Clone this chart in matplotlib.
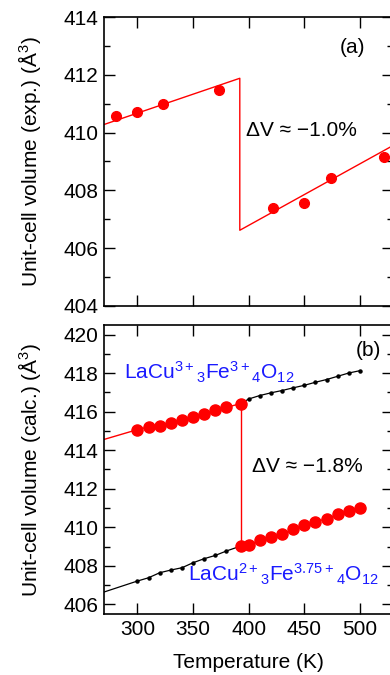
import matplotlib
matplotlib.use("Agg")
import matplotlib.pyplot as plt
from matplotlib.ticker import MultipleLocator

plt.rcParams['font.family'] = ['Liberation Sans', 'DejaVu Sans']
plt.rcParams['font.size'] = 15
plt.rcParams['mathtext.fontset'] = 'custom'
plt.rcParams['mathtext.rm'] = 'Liberation Sans'
plt.rcParams['mathtext.it'] = 'Liberation Sans:italic'
plt.rcParams['mathtext.bf'] = 'Liberation Sans:bold'

# EXPERIMENT (panel a)
T_exp = [281, 300, 323, 373, 422, 450, 474, 522]
V_exp = [410.56, 410.71, 410.98, 411.49, 407.38, 407.55, 408.44, 409.14]
# fitted lines with jump
T_fit = [270, 392, 392, 530]
V_fit = [410.28, 411.88, 406.62, 409.56]

# CALCULATION (panel b)
T_tr = 393
T_hi_red = [300, 310, 320, 330, 340, 350, 360, 370, 380, 393]
V_hi_red = [415.07, 415.21, 415.28, 415.42, 415.59, 415.73, 415.87, 416.08, 416.23, 416.42]
T_hi_blk = [393, 400, 410, 420, 430, 440, 450, 460, 470, 480, 490, 500]
V_hi_blk = [416.42, 416.66, 416.84, 416.98, 417.10, 417.24, 417.37, 417.53, 417.67, 417.84, 418.01, 418.13]
T_lo_blk = [300, 310, 320, 330, 340, 350, 360, 370, 380, 393]
V_lo_blk = [407.21, 407.38, 407.64, 407.78, 407.90, 408.16, 408.37, 408.54, 408.77, 409.03]
T_lo_red = [393, 400, 410, 420, 430, 440, 450, 460, 470, 480, 490, 500]
V_lo_red = [409.03, 409.06, 409.34, 409.51, 409.63, 409.89, 410.11, 410.29, 410.44, 410.67, 410.84, 411.01]
# extrapolated ends at the left edge
T_left = 270
V_hi_left = 414.56
V_lo_left = 406.64

red = '#ff0000'
blue = '#1a1aff'

fig = plt.figure(figsize=(3.9, 6.75), dpi=100)
ax1 = fig.add_axes([0.2667, 0.5467, 1.0087 - 0.2667, 0.9748 - 0.5467])
ax2 = fig.add_axes([0.2667, 0.0904, 1.0087 - 0.2667, 0.5185 - 0.0904])

# PANEL A
ax1.plot(T_fit, V_fit, color=red, lw=1.0)
ax1.plot(T_exp, V_exp, 'o', color=red, ms=7, mec=red)
ax1.set_xlim(270, 530)
ax1.set_ylim(404, 414)
ax1.yaxis.set_major_locator(MultipleLocator(2))
ax1.yaxis.set_minor_locator(MultipleLocator(1))
ax1.set_xticks([300, 350, 400, 450, 500])
ax1.tick_params(labelbottom=False)
ax1.set_ylabel('Unit-cell volume (exp.) (Å$^3$)')
ax1.yaxis.set_label_coords(-0.21, 0.5)
ax1.text(398, 410.08, 'ΔV ≈ −1.0%', ha='left', va='center', fontsize=15)
ax1.text(0.858, 0.893, '(a)', transform=ax1.transAxes, ha='center', va='center', fontsize=15)

# PANEL B
ax2.plot([T_left] + T_lo_blk, [V_lo_left] + V_lo_blk, color='black', lw=0.9,
         marker='o', ms=2.2, markevery=list(range(1, len(T_lo_blk))))
ax2.plot(T_hi_blk, V_hi_blk, color='black', lw=0.9, marker='o', ms=2.2,
         markevery=list(range(1, len(T_hi_blk))))
ax2.plot([T_left] + T_hi_red, [V_hi_left] + V_hi_red, color=red, lw=1.0)
ax2.plot(T_lo_red, V_lo_red, color=red, lw=1.0)
ax2.plot([T_tr, T_tr], [V_lo_red[0], V_hi_red[-1]], color=red, lw=1.0)
ax2.plot(T_hi_red, V_hi_red, 'o', color=red, ms=8, mec=red)
ax2.plot(T_lo_red, V_lo_red, 'o', color=red, ms=8, mec=red)
ax2.set_xlim(270, 530)
ax2.set_ylim(405.5, 420.5)
ax2.yaxis.set_major_locator(MultipleLocator(2))
ax2.yaxis.set_minor_locator(MultipleLocator(1))
ax2.set_xticks([300, 350, 400, 450, 500])
ax2.set_xlabel('Temperature (K)')
ax2.xaxis.set_label_coords(0.5, -0.135)
ax2.set_ylabel('Unit-cell volume (calc.) (Å$^3$)')
ax2.yaxis.set_label_coords(-0.21, 0.5)
ax2.text(403, 413.16, 'ΔV ≈ −1.8%', ha='left', va='center', fontsize=15)
ax2.text(0.913, 0.913, '(b)', transform=ax2.transAxes, ha='center', va='center', fontsize=15)
ax2.text(288, 417.67, r'LaCu$^{3+}$$_{3}$Fe$^{3+}$$_{4}$O$_{12}$', color=blue,
         ha='left', va='baseline', fontsize=15)
ax2.text(345.6, 407.2, r'LaCu$^{2+}$$_{3}$Fe$^{3.75+}$$_{4}$O$_{12}$', color=blue,
         ha='left', va='baseline', fontsize=15)

for ax in (ax1, ax2):
    ax.tick_params(which='both', direction='in', top=True, right=True, labelsize=15)
    ax.tick_params(which='major', length=8, width=1.0, pad=4)
    ax.tick_params(which='minor', length=4.5, width=1.0)
    for s in ax.spines.values():
        s.set_linewidth(1.2)

fig.savefig('out.png', dpi=100)
